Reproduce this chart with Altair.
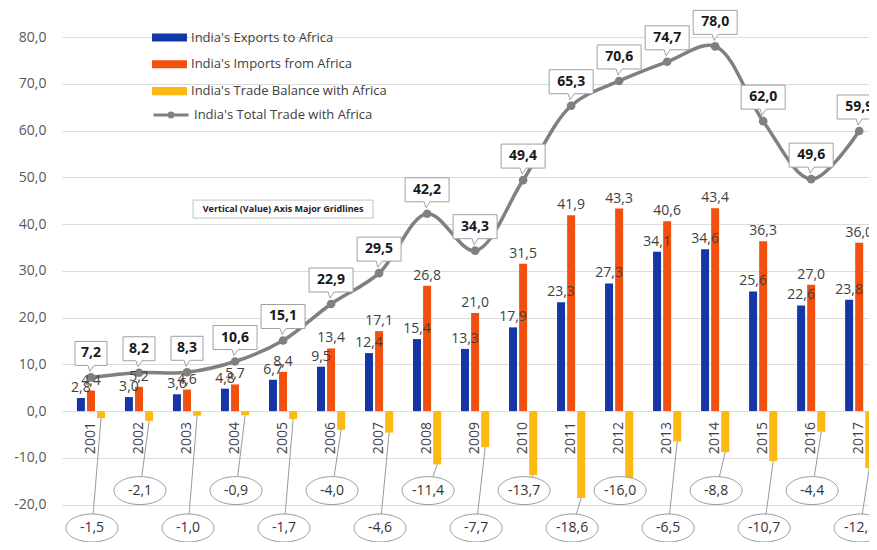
import altair as alt
import pandas as pd

years = list(range(2001, 2018))
exports = [2.8, 3.0, 3.6, 4.8, 6.7, 9.5, 12.4, 15.4, 13.3, 17.9, 23.3, 27.3, 34.1, 34.6, 25.6, 22.6, 23.8]
imports = [4.4, 5.2, 4.6, 5.7, 8.4, 13.4, 17.1, 26.8, 21.0, 31.5, 41.9, 43.3, 40.6, 43.4, 36.3, 27.0, 36.0]
balance = [-1.5, -2.1, -1.0, -0.9, -1.7, -4.0, -4.6, -11.4, -7.7, -13.7, -18.6, -16.0, -6.5, -8.8, -10.7, -4.4, -12.2]
total = [7.2, 8.2, 8.3, 10.6, 15.1, 22.9, 29.5, 42.2, 34.3, 49.4, 65.3, 70.6, 74.7, 78.0, 62.0, 49.6, 59.9]

EXP = "India's Exports to Africa"
IMP = "India's Imports from Africa"
BAL = "India's Trade Balance with Africa"
TOT = "India's Total Trade with Africa"
bar_series = [EXP, IMP, BAL]
bar_colors = ["#1237a8", "#f2500e", "#fdb813"]
line_color = "#808080"
FONT = "Open Sans"

rows = []
for i, yr in enumerate(years):
    for k, (s, vals) in enumerate(zip(bar_series, [exports, imports, balance])):
        rows.append({"year": yr, "series": s, "k": k - 1, "value": vals[i]})
bars_df = pd.DataFrame(rows)
total_df = pd.DataFrame({"year": years, "line_series": TOT, "value": total})
bal_df = pd.DataFrame({"year": years, "value": balance})
note_df = pd.DataFrame({"note": ["Vertical (Value) Axis Major Gridlines"]})

LAB = "(datum.value < 0 ? '-' : '') + replace(format(abs(datum.value), '.1f'), '.', ',')"
xscale = alt.Scale(domain=[2000.5, 2017.1], nice=False, zero=False)
yscale = alt.Scale(domain=[-25, 80], nice=False, zero=False)
yaxis = alt.Axis(values=list(range(-20, 90, 10)), labelExpr=LAB, domain=False, ticks=False,
                 labelPadding=16, gridColor="#dcdcdc", labelFontSize=14, labelColor="#595959",
                 labelFont=FONT, title=None)
X = lambda f: alt.X(f, type="quantitative", scale=xscale, axis=None)
Y = lambda f: alt.Y(f, type="quantitative", scale=yscale, axis=yaxis)

bars_base = alt.Chart(bars_df).transform_calculate(xpos="datum.year + 0.21 * datum.k")

bars = bars_base.mark_bar(width=8).encode(
    x=X("xpos"), y=Y("value"),
    color=alt.Color("series:N", scale=alt.Scale(domain=bar_series, range=bar_colors),
                    legend=alt.Legend(title=None, orient="none", legendX=90, legendY=-6,
                                      direction="vertical",
                                      symbolType="M-1,-0.23L1,-0.23L1,0.23L-1,0.23Z",
                                      symbolSize=1225, clipHeight=13, rowPadding=12.8,
                                      labelFontSize=13, labelFont=FONT, labelColor="#404040",
                                      labelOffset=4, labelLimit=400, padding=0,
                                      symbolStrokeWidth=0, symbolOpacity=1)),
)

bar_labels = bars_base.transform_filter("datum.k < 1").transform_calculate(lab=LAB).mark_text(
    baseline="bottom", dy=-3, fontSize=14, font=FONT, color="#404040"
).encode(x=X("xpos"), y=Y("value"), text="lab:N")

line = alt.Chart(total_df).mark_line(interpolate="catmull-rom", strokeWidth=3.5).encode(
    x=X("year"), y=Y("value"),
    stroke=alt.Stroke("line_series:N", scale=alt.Scale(domain=[TOT], range=[line_color]),
                      legend=alt.Legend(title=None, orient="none", legendX=90, legendY=71.5,
                                        symbolType="M-1,0L1,0M-0.11,0A0.11,0.11 0 1,0 0.11,0A0.11,0.11 0 1,0 -0.11,0Z",
                                        symbolSize=1225, symbolStrokeWidth=3, clipHeight=13,
                                        labelFontSize=13, labelFont=FONT, labelColor="#404040",
                                        labelOffset=4, labelLimit=400, padding=0,
                                        symbolFillColor=line_color)),
)
points = alt.Chart(total_df).mark_circle(size=75, color=line_color, opacity=1).encode(
    x=X("year"), y=Y("value"))

BOX4 = "M-4.4,-2.4L4.4,-2.4L4.4,2.4L0.6,2.4L-0.2,3.6L-0.6,2.4L-4.4,2.4Z"
BOX3 = "M-3.2,-2.4L3.2,-2.4L3.2,2.4L0.6,2.4L-0.2,3.6L-0.6,2.4L-3.2,2.4Z"
tot_base = alt.Chart(total_df).transform_calculate(
    lab=LAB, shp=f"datum.value >= 10 ? '{BOX4}' : '{BOX3}'")
tot_boxes = tot_base.mark_point(filled=True, fill="white", stroke="#a0a0a0", strokeWidth=1,
                                opacity=1, size=100, yOffset=-24).encode(
    x=X("year"), y=Y("value"), shape=alt.Shape("shp:N", scale=None))
tot_text = tot_base.mark_text(fontWeight="bold", fontSize=14, font=FONT, color="#1a1a1a",
                              baseline="middle", yOffset=-24).encode(
    x=X("year"), y=Y("value"), text="lab:N")

ELL = "M-5.2,0A5.2,2.8 0 1,0 5.2,0A5.2,2.8 0 1,0 -5.2,0Z"
bal_base = alt.Chart(bal_df).transform_calculate(
    lab=LAB, cy="datum.year % 2 == 1 ? -25 : -17",
    bx="datum.year + 0.21", ex="datum.year + 0.02", shp=f"'{ELL}'")
bal_rules = bal_base.mark_rule(color="#9a9a9a", strokeWidth=1).encode(
    x=X("bx"), y=Y("value"), x2="ex:Q", y2="cy:Q")
bal_ell = bal_base.mark_point(filled=True, fill="white", stroke="#9a9a9a", strokeWidth=1,
                              opacity=1, size=100).encode(
    x=X("ex"), y=Y("cy"), shape=alt.Shape("shp:N", scale=None))
bal_text = bal_base.mark_text(fontSize=14, font=FONT, color="#333333", baseline="middle").encode(
    x=X("ex"), y=Y("cy"), text="lab:N")

year_labels = alt.Chart(total_df).mark_text(angle=270, align="right", baseline="middle",
                                            fontSize=14, font=FONT, color="#404040",
                                            yOffset=11).encode(
    x=X("year"), y=alt.Y(datum=0, scale=yscale, axis=yaxis), text="year:N")

NOTE = "M-18,-1.8L18,-1.8L18,1.8L-18,1.8Z"
note_base = alt.Chart(note_df).transform_calculate(shp=f"'{NOTE}'")
note_box = note_base.mark_point(filled=True, fill="white", stroke="#c4c4c4", strokeWidth=1,
                                opacity=1, size=100).encode(
    x=alt.X(datum=2005.0, scale=xscale, axis=None), y=alt.Y(datum=43.2, scale=yscale, axis=yaxis),
    shape=alt.Shape("shp:N", scale=None))
note_text = note_base.mark_text(fontSize=9, fontWeight="bold", font=FONT, color="#222222",
                                baseline="middle").encode(
    x=alt.X(datum=2005.0, scale=xscale, axis=None), y=alt.Y(datum=43.2, scale=yscale, axis=yaxis),
    text="note:N")

chart = alt.layer(
    bars, bal_rules, line, points, bar_labels, tot_boxes, tot_text,
    bal_ell, bal_text, year_labels, note_box, note_text
).properties(
    width=807, height=491,
    autosize=alt.AutoSizeParams(type="none"),
    padding={"left": 54, "top": 29, "right": 0, "bottom": 14},
    background="white",
).configure_view(stroke=None)

chart.save("out.html", embed_options={"renderer": "svg", "actions": False})
